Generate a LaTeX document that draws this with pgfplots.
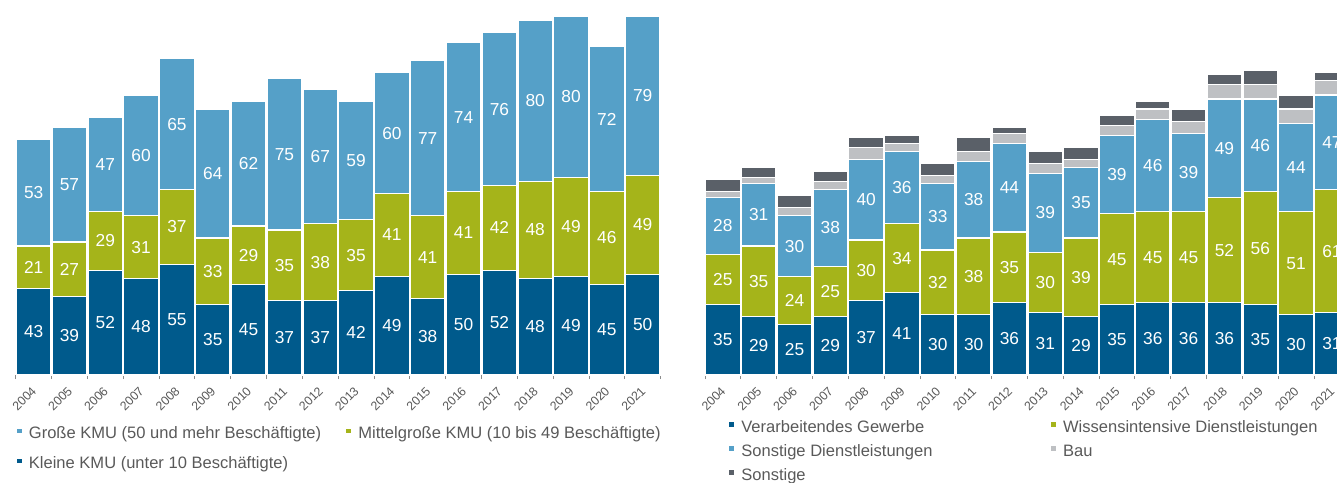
\documentclass[border=0pt]{standalone}
\usepackage{fontspec}
\setmainfont{Liberation Sans}
\usepackage{pgfplots}
\usepackage{pgfplotstable}
\pgfplotsset{compat=1.18}

\definecolor{dblue}{HTML}{005A8C}
\definecolor{lblue}{HTML}{55A0C8}
\definecolor{ggreen}{HTML}{A5B41A}
\definecolor{lgrey}{HTML}{BEC0C3}
\definecolor{dgrey}{HTML}{5A6068}
\definecolor{txtgrey}{HTML}{595959}
\definecolor{axgrey}{HTML}{8C8C8C}

% KMU nach Groesse
\pgfplotstableread{
x  klein mittel gross
0  43 21 53
1  39 27 57
2  52 29 47
3  48 31 60
4  55 37 65
5  35 33 64
6  45 29 62
7  37 35 75
8  37 38 67
9  42 35 59
10 49 41 60
11 38 41 77
12 50 41 74
13 52 42 76
14 48 48 80
15 49 49 80
16 45 46 72
17 50 49 79
}\kmu

% KMU nach Branche
\pgfplotstableread{
x  verarb wissen sonstdl bau sonst
0  35 25 28 3 6
1  29 35 31 3 5
2  25 24 30 4 6
3  29 25 38 4 5
4  37 30 40 6 5
5  41 34 36 4 4
6  30 32 33 4 6
7  30 38 38 5 7
8  36 35 44 5 3
9  31 30 39 5 6
10 29 39 35 4 6
11 35 45 39 5 5
12 36 45 46 5 4
13 36 45 39 6 6
14 36 52 49 7 5
15 35 56 46 7 7
16 30 51 44 7 7
17 31 61 47 7 4
}\branche

\pgfplotsset{
  panel/.style={
    scale only axis, anchor=south west, clip=false,
    /pgf/number format/assume math mode=true,
    ybar stacked, bar width=25.9pt,
    x=26.87pt, y=1.511pt, ymin=0, ymax=183,
    xmin=-0.5, xmax=17.5,
    axis x line*=bottom, axis y line=none,
    axis line style={axgrey, line width=0.6pt},
    xtick={0,...,17},
    xticklabels={2004,2005,2006,2007,2008,2009,2010,2011,2012,2013,2014,2015,2016,2017,2018,2019,2020,2021},
    major tick length=0pt,
    minor xtick={-0.5,0.5,...,17.5},
    minor tick length=3pt,
    tick align=outside,
    minor tick style={axgrey, line width=0.6pt},
    xticklabel style={font=\fontsize{9.3}{10}\selectfont, text=txtgrey, inner sep=0pt,
      yshift=-8pt, xshift=-2pt, rotate=45, anchor=north east},
    legend cell align=left,
    legend style={draw=none, fill=none, inner sep=0pt, outer sep=0pt, anchor=north west,
      font=\fontsize{12.4}{14}\selectfont, text=txtgrey,
      nodes={inner sep=0pt, text height=9pt, text depth=3pt},
      /tikz/every odd column/.append style={column sep=4.5pt}},
    legend image code/.code={\fill[##1] (0pt,0.75pt) rectangle (4.5pt,5.25pt);},
  },
  seg/.style={fill=#1, draw=white, line width=0.9pt},
  lab/.style={nodes near coords, nodes near coords align=center,
    point meta=explicit,
    every node near coord/.append style={text=white, font=\fontsize{13}{15}\selectfont,
      inner sep=0pt}},
}

\begin{document}
\begin{tikzpicture}
\useasboundingbox (0,0) rectangle (1002.75pt,361.5pt);

\begin{axis}[panel, at={(11.8pt,80.25pt)},
  legend columns=2, reverse legend,
  legend style={at={(axis description cs:0,-0.141)}, row sep=10.5pt,
    /tikz/every even column/.append style={column sep=18pt}}]
  \addplot[seg=dblue, lab] table[x=x, y=klein, meta=klein] {\kmu};
  \addplot[seg=ggreen, lab] table[x=x, y=mittel, meta=mittel] {\kmu};
  \addplot[seg=lblue, lab] table[x=x, y=gross, meta=gross] {\kmu};
  \legend{Kleine KMU (unter 10 Beschäftigte),
          Mittelgroße KMU (10 bis 49 Beschäftigte),
          Große KMU (50 und mehr Beschäftigte)}
\end{axis}

\begin{axis}[panel, at={(528.7pt,80.25pt)},
  legend columns=2,
  legend style={at={(axis description cs:0.036,-0.124)}, row sep=6pt,
    /tikz/every even column/.append style={column sep=88pt}}]
  \addplot[seg=dblue, lab] table[x=x, y=verarb, meta=verarb] {\branche};
  \addplot[seg=ggreen, lab] table[x=x, y=wissen, meta=wissen] {\branche};
  \addplot[seg=lblue, lab] table[x=x, y=sonstdl, meta=sonstdl] {\branche};
  \addplot[seg=lgrey] table[x=x, y=bau] {\branche};
  \addplot[seg=dgrey] table[x=x, y=sonst] {\branche};
  \legend{Verarbeitendes Gewerbe, Wissensintensive Dienstleistungen,
          Sonstige Dienstleistungen, Bau, Sonstige}
\end{axis}
\end{tikzpicture}
\end{document}
